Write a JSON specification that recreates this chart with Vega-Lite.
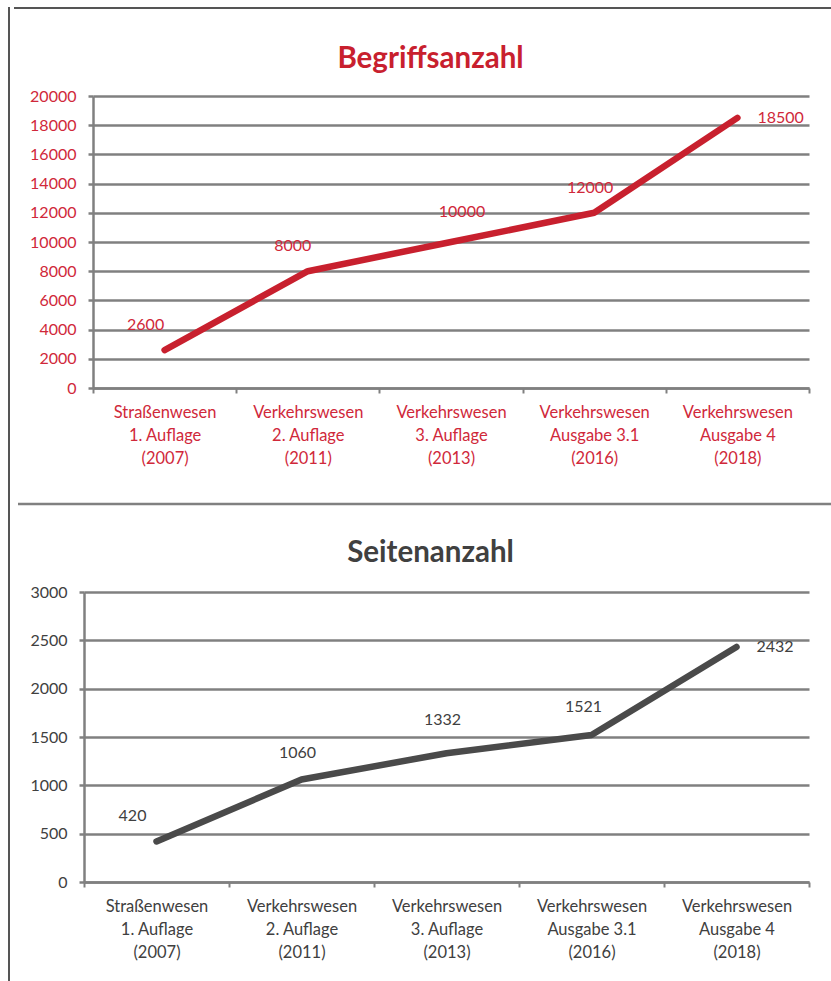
{
  "$schema": "https://vega.github.io/schema/vega-lite/v6.json",
  "padding": {"left": 5, "top": 7, "right": 0, "bottom": 0},
  "background": "white",
  "spacing": 0,
  "config": {
    "view": {"stroke": null},
    "font": "Lato"
  },
  "data": {
    "values": [
      {"ausgabe": "Straßenwesen|1. Auflage|(2007)", "begriffe": 2600, "seiten": 420},
      {"ausgabe": "Verkehrswesen|2. Auflage|(2011)", "begriffe": 8000, "seiten": 1060},
      {"ausgabe": "Verkehrswesen|3. Auflage|(2013)", "begriffe": 10000, "seiten": 1332},
      {"ausgabe": "Verkehrswesen|Ausgabe 3.1|(2016)", "begriffe": 12000, "seiten": 1521},
      {"ausgabe": "Verkehrswesen|Ausgabe 4|(2018)", "begriffe": 18500, "seiten": 2432}
    ]
  },
  "hconcat": [
    {
      "width": 0.001,
      "height": 974,
      "data": {"values": [{"rand": "links"}]},
      "view": {"stroke": "#555555", "strokeWidth": 2},
      "mark": {"type": "point", "opacity": 0},
      "encoding": {}
    },
    {
      "spacing": 31,
      "vconcat": [
        {
          "width": 725,
          "height": 4,
          "data": {"values": [{"rand": "oben"}]},
          "mark": {"type": "rule", "color": "#555555", "strokeWidth": 2},
          "encoding": {
            "x": {"datum": 0, "type": "quantitative", "scale": {"domain": [0, 1], "range": [-70, 755]}, "axis": null},
            "x2": {"datum": 1},
            "y": {"value": 0}
          }
        },
        {
          "width": 725,
          "height": 292,
          "title": {
            "text": "Begriffsanzahl",
            "fontSize": 29.5,
            "fontWeight": "bold",
            "color": "#C8202E",
            "frame": "group",
            "anchor": "middle",
            "dx": -16,
            "offset": 14
          },
          "encoding": {
            "x": {
              "field": "ausgabe",
              "type": "nominal",
              "sort": null,
              "bandPosition": 0.5,
              "scale": {"type": "band", "paddingInner": 0, "paddingOuter": 0, "range": [9, 725]},
              "axis": {
                "title": null,
                "labelAngle": 0,
                "labelExpr": "datum.value ? split(datum.value, '|') : ''",
                "labelColor": "#D0283A",
                "labelFontSize": 16.5,
                "labelLineHeight": 23,
                "labelPadding": 11,
                "domainColor": "#808080",
                "domainWidth": 2.5,
                "tickColor": "#808080",
                "tickWidth": 2,
                "tickSize": 5,
                "tickBand": "extent",
                "grid": false
              }
            },
            "y": {
              "field": "begriffe",
              "type": "quantitative",
              "scale": {"domain": [0, 20000]},
              "axis": {
                "title": null,
                "offset": -9,
                "values": [0, 2000, 4000, 6000, 8000, 10000, 12000, 14000, 16000, 18000, 20000],
                "format": "d",
                "labelColor": "#D0283A",
                "labelFontSize": 16,
                "labelPadding": 12,
                "domainColor": "#808080",
                "domainWidth": 2.5,
                "tickColor": "#808080",
                "tickWidth": 2.5,
                "tickSize": 5,
                "gridColor": "#808080",
                "gridWidth": 2.5
              }
            }
          },
          "layer": [
            {"mark": {"type": "line", "color": "#C8202E", "strokeWidth": 6.5, "strokeCap": "round", "strokeJoin": "round"}},
            {
              "transform": [{"filter": "datum.begriffe == 2600"}],
              "mark": {"type": "text", "color": "#D0283A", "fontSize": 16, "dx": -19, "dy": -25},
              "encoding": {"text": {"field": "begriffe", "type": "quantitative", "format": "d"}}
            },
            {
              "transform": [{"filter": "datum.begriffe == 8000"}],
              "mark": {"type": "text", "color": "#D0283A", "fontSize": 16, "dx": -15, "dy": -25},
              "encoding": {"text": {"field": "begriffe", "type": "quantitative", "format": "d"}}
            },
            {
              "transform": [{"filter": "datum.begriffe == 10000"}],
              "mark": {"type": "text", "color": "#D0283A", "fontSize": 16, "dx": 11, "dy": -30},
              "encoding": {"text": {"field": "begriffe", "type": "quantitative", "format": "d"}}
            },
            {
              "transform": [{"filter": "datum.begriffe == 12000"}],
              "mark": {"type": "text", "color": "#D0283A", "fontSize": 16, "dx": -4, "dy": -25},
              "encoding": {"text": {"field": "begriffe", "type": "quantitative", "format": "d"}}
            },
            {
              "transform": [{"filter": "datum.begriffe == 18500"}],
              "mark": {"type": "text", "color": "#D0283A", "fontSize": 16, "align": "left", "dx": 20, "dy": 0},
              "encoding": {"text": {"field": "begriffe", "type": "quantitative", "format": "d"}}
            }
          ]
        },
        {
          "width": 725,
          "height": 6,
          "data": {"values": [{"rand": "trenner"}]},
          "mark": {"type": "rule", "color": "#808080", "strokeWidth": 2.5},
          "encoding": {
            "x": {"datum": 0, "type": "quantitative", "scale": {"domain": [0, 1], "range": [-66, 755]}, "axis": null},
            "x2": {"datum": 1},
            "y": {"value": "height"}
          }
        },
        {
          "width": 725,
          "height": 290,
          "title": {
            "text": "Seitenanzahl",
            "fontSize": 29.5,
            "fontWeight": "bold",
            "color": "#404040",
            "frame": "group",
            "anchor": "middle",
            "dx": -16,
            "offset": 16
          },
          "encoding": {
            "x": {
              "field": "ausgabe",
              "type": "nominal",
              "sort": null,
              "bandPosition": 0.5,
              "scale": {"type": "band", "paddingInner": 0, "paddingOuter": 0},
              "axis": {
                "title": null,
                "labelAngle": 0,
                "labelExpr": "datum.value ? split(datum.value, '|') : ''",
                "labelColor": "#404040",
                "labelFontSize": 16.5,
                "labelLineHeight": 23,
                "labelPadding": 11,
                "domainColor": "#808080",
                "domainWidth": 2.5,
                "tickColor": "#808080",
                "tickWidth": 2,
                "tickSize": 5,
                "tickBand": "extent",
                "grid": false
              }
            },
            "y": {
              "field": "seiten",
              "type": "quantitative",
              "scale": {"domain": [0, 3000]},
              "axis": {
                "title": null,
                "values": [0, 500, 1000, 1500, 2000, 2500, 3000],
                "format": "d",
                "labelColor": "#404040",
                "labelFontSize": 16,
                "labelPadding": 12,
                "domainColor": "#808080",
                "domainWidth": 2.5,
                "tickColor": "#808080",
                "tickWidth": 2.5,
                "tickSize": 5,
                "gridColor": "#808080",
                "gridWidth": 2.5
              }
            }
          },
          "layer": [
            {"mark": {"type": "line", "color": "#4A4A4A", "strokeWidth": 6.5, "strokeCap": "round", "strokeJoin": "round"}},
            {
              "transform": [{"filter": "datum.seiten == 420"}],
              "mark": {"type": "text", "color": "#404040", "fontSize": 16, "dx": -24, "dy": -25},
              "encoding": {"text": {"field": "seiten", "type": "quantitative", "format": "d"}}
            },
            {
              "transform": [{"filter": "datum.seiten == 1060"}],
              "mark": {"type": "text", "color": "#404040", "fontSize": 16, "dx": -4, "dy": -27},
              "encoding": {"text": {"field": "seiten", "type": "quantitative", "format": "d"}}
            },
            {
              "transform": [{"filter": "datum.seiten == 1332"}],
              "mark": {"type": "text", "color": "#404040", "fontSize": 16, "dx": -4, "dy": -33},
              "encoding": {"text": {"field": "seiten", "type": "quantitative", "format": "d"}}
            },
            {
              "transform": [{"filter": "datum.seiten == 1521"}],
              "mark": {"type": "text", "color": "#404040", "fontSize": 16, "dx": -8, "dy": -28},
              "encoding": {"text": {"field": "seiten", "type": "quantitative", "format": "d"}}
            },
            {
              "transform": [{"filter": "datum.seiten == 2432"}],
              "mark": {"type": "text", "color": "#404040", "fontSize": 16, "align": "left", "dx": 20, "dy": 0},
              "encoding": {"text": {"field": "seiten", "type": "quantitative", "format": "d"}}
            }
          ]
        }
      ]
    }
  ]
}
